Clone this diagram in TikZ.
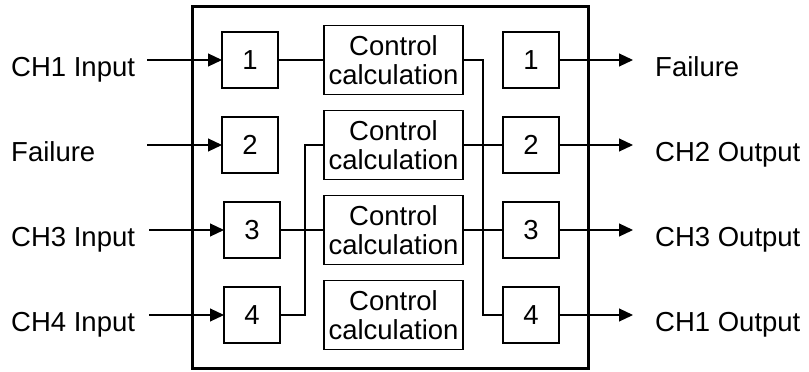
\documentclass[tikz,border=0pt]{standalone}
\usepackage{fontspec}
\setmainfont{Liberation Sans}
\usetikzlibrary{arrows.meta,positioning,fit}
\definecolor{ink}{HTML}{000000}
\tikzset{
  arr/.style={-{Triangle[length=14pt,width=13pt]}, line width=1.1pt, draw=ink},
  wire/.style={line width=1.1pt, draw=ink},
  figbase/.style={
    font=\fontsize{27.5}{29}\selectfont,
    color=ink,
    x=1pt, y=-1pt,
  },
  chbox/.style={
    draw=ink, line width=1.1pt,
    minimum width=56pt, minimum height=56pt,
    inner sep=0pt, outer sep=0pt,
  },
  calcbox/.style={
    draw=ink, line width=1.1pt,
    minimum width=139pt, minimum height=69pt,
    inner sep=0pt, outer sep=0pt,
    align=center,
  },
  unitbox/.style={draw=ink, line width=2.2pt},
  lab/.style={
    text height=20pt, text depth=0pt,
    inner sep=1pt, yshift=-6pt,
  },
}
\begin{document}
\begin{tikzpicture}[figbase]
  \useasboundingbox (0,0) rectangle (809,372);
  \coordinate (margin) at (10,0);

  \node[chbox] (in1) at (250,60) {1};
  \node[chbox, below=29pt of in1] (in2) {2};
  \node[chbox, below=29pt of in2, xshift=2pt] (in3) {3};
  \node[chbox, below=29pt of in3] (in4) {4};

  \node[calcbox, right=46pt of in1] (calc1) {Control\\calculation};
  \node[calcbox, below=16pt of calc1] (calc2) {Control\\calculation};
  \node[calcbox, below=16pt of calc2] (calc3) {Control\\calculation};
  \node[calcbox, below=16pt of calc3] (calc4) {Control\\calculation};

  \node[chbox, right=40pt of calc1] (out1) {1};
  \node[chbox, below=29pt of out1] (out2) {2};
  \node[chbox, below=29pt of out2] (out3) {3};
  \node[chbox, below=29pt of out3] (out4) {4};

  \node[unitbox, fit=(in1)(calc1)(calc4)(out4), inner xsep=29.5pt, inner ysep=19pt] (unit) {};

  \foreach \i/\t in {1/CH1 Input, 2/Failure, 3/CH3 Input, 4/CH4 Input} {
    \coordinate[left=75pt of in\i.west] (s\i);
    \node[lab, anchor=west] (inlab\i) at (margin |- s\i) {\t};
    \draw[arr] (s\i) -- (in\i.west);
  }
  \foreach \i/\t in {1/Failure, 2/CH2 Output, 3/CH3 Output, 4/CH1 Output} {
    \draw[arr] (out\i.east) -- ++(74,0) coordinate (e\i);
    \node[lab, right=21pt of e\i] (outlab\i) {\t};
  }

  \draw[wire] (in1) -- (calc1);
  \draw[wire] (calc1.east) -- ++(20,0) |- (out4.west);
  \draw[wire] (calc2) -- (out2);
  \draw[wire] (in4.east) -- ++(25,0) |- (calc2.west);
  \draw[wire] (in3) -- (calc3);
  \draw[wire] (calc3) -- (out3);
\end{tikzpicture}
\end{document}
